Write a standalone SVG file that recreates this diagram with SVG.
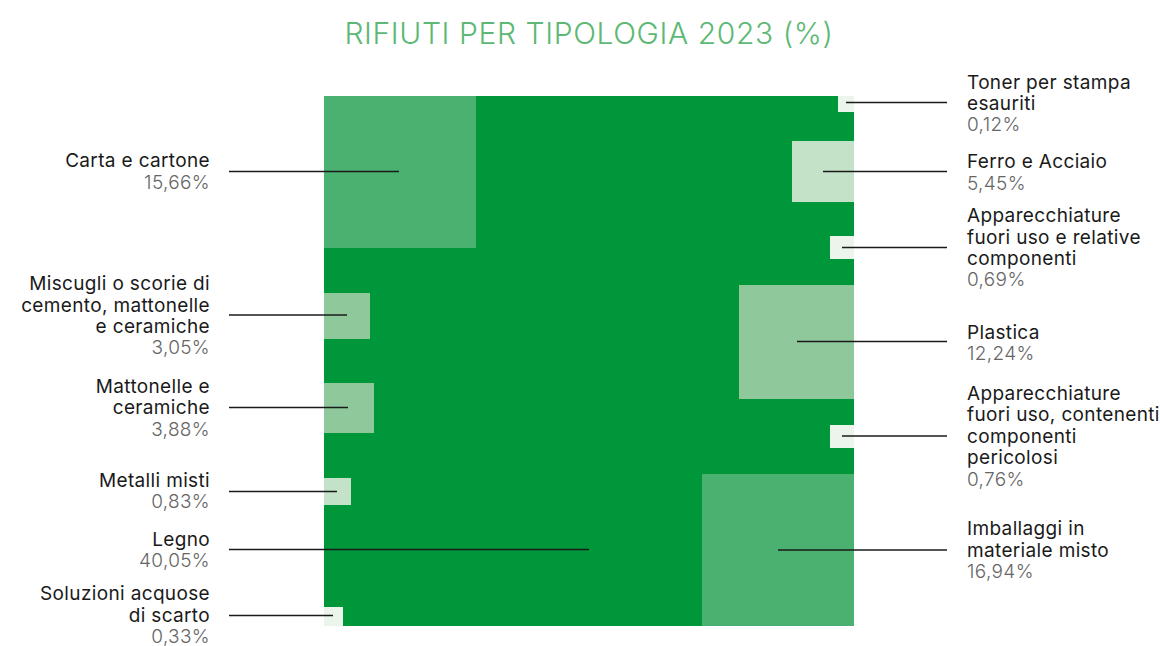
<svg xmlns="http://www.w3.org/2000/svg" width="1160" height="646" viewBox="0 0 1160 646">
<style>
.lbl{font-family:Inter,"Liberation Sans",sans-serif;font-size:19px;fill:#1a1a1a;letter-spacing:0.35px}
.pct{font-family:Inter,"Liberation Sans",sans-serif;font-size:19px;font-weight:300;fill:#666;letter-spacing:0.35px}
.l{text-anchor:end}
.ld{stroke:#1a1a1a;stroke-width:1.5;fill:none}
.c1{fill:#4ab170}.c2{fill:#8fc89a}.c3{fill:#c3e2c7}.c4{fill:#ebf5ec}
</style>
<rect width="1160" height="646" fill="#fff"/>
<text x="589" y="44" text-anchor="middle" font-family="Inter,'Liberation Sans',sans-serif" font-size="30" font-weight="300" letter-spacing="0.6" fill="#5cb874">RIFIUTI PER TIPOLOGIA 2023 (%)</text>
<g id="legno"><rect x="324" y="96" width="530" height="530" fill="#00963a"/></g>
<g id="carta"><rect class="c1" x="324" y="96" width="152" height="152"/></g>
<g id="miscugli"><rect class="c2" x="324" y="293" width="46" height="46"/></g>
<g id="mattonelle"><rect class="c2" x="324" y="383" width="50" height="50"/></g>
<g id="metalli"><rect class="c3" x="324" y="478" width="27" height="27"/></g>
<g id="soluzioni"><rect class="c4" x="324" y="607" width="19" height="19"/></g>
<g id="toner"><rect class="c4" x="838" y="96" width="16" height="16"/></g>
<g id="ferro"><rect class="c3" x="792" y="141" width="62" height="61"/></g>
<g id="app1"><rect class="c4" x="830" y="236" width="24" height="23"/></g>
<g id="plastica"><rect class="c2" x="739" y="285" width="115" height="114"/></g>
<g id="app2"><rect class="c4" x="830" y="425" width="24" height="23"/></g>
<g id="imballaggi"><rect class="c1" x="702" y="474" width="152" height="152"/></g>
<g id="connectors">
<line class="ld" x1="229" y1="171.5" x2="399" y2="171.5"/>
<line class="ld" x1="229" y1="315" x2="347" y2="315"/>
<line class="ld" x1="229" y1="407.5" x2="348" y2="407.5"/>
<line class="ld" x1="229" y1="491.5" x2="337" y2="491.5"/>
<line class="ld" x1="229" y1="549.5" x2="589" y2="549.5"/>
<line class="ld" x1="229" y1="615.5" x2="333" y2="615.5"/>
<line class="ld" x1="846" y1="102.5" x2="947" y2="102.5"/>
<line class="ld" x1="823" y1="171.5" x2="947" y2="171.5"/>
<line class="ld" x1="842" y1="247.5" x2="947" y2="247.5"/>
<line class="ld" x1="797" y1="341.5" x2="947" y2="341.5"/>
<line class="ld" x1="842" y1="436" x2="947" y2="436"/>
<line class="ld" x1="778" y1="550" x2="947" y2="550"/>
</g>
<g id="labels-left">
<text class="lbl l" x="210" y="167">Carta e cartone</text>
<text class="pct l" x="210" y="189">15,66%</text>
<text class="lbl l" x="210" y="290">Miscugli o scorie di</text>
<text class="lbl l" x="210" y="311.5">cemento, mattonelle</text>
<text class="lbl l" x="210" y="333">e ceramiche</text>
<text class="pct l" x="210" y="354">3,05%</text>
<text class="lbl l" x="210" y="393">Mattonelle e</text>
<text class="lbl l" x="210" y="414">ceramiche</text>
<text class="pct l" x="210" y="436">3,88%</text>
<text class="lbl l" x="210" y="487">Metalli misti</text>
<text class="pct l" x="210" y="508">0,83%</text>
<text class="lbl l" x="210" y="546">Legno</text>
<text class="pct l" x="210" y="567">40,05%</text>
<text class="lbl l" x="210" y="600">Soluzioni acquose</text>
<text class="lbl l" x="210" y="621.5">di scarto</text>
<text class="pct l" x="210" y="643">0,33%</text>
</g>
<g id="labels-right">
<text class="lbl" x="967" y="89">Toner per stampa</text>
<text class="lbl" x="967" y="110">esauriti</text>
<text class="pct" x="967" y="131">0,12%</text>
<text class="lbl" x="967" y="168">Ferro e Acciaio</text>
<text class="pct" x="967" y="189.5">5,45%</text>
<text class="lbl" x="967" y="222">Apparecchiature</text>
<text class="lbl" x="967" y="243.5">fuori uso e relative</text>
<text class="lbl" x="967" y="265">componenti</text>
<text class="pct" x="967" y="286">0,69%</text>
<text class="lbl" x="967" y="338.5">Plastica</text>
<text class="pct" x="967" y="359.5">12,24%</text>
<text class="lbl" x="967" y="399.5">Apparecchiature</text>
<text class="lbl" x="967" y="421">fuori uso, contenenti</text>
<text class="lbl" x="967" y="442.5">componenti</text>
<text class="lbl" x="967" y="463.5">pericolosi</text>
<text class="pct" x="967" y="485.5">0,76%</text>
<text class="lbl" x="967" y="535">Imballaggi in</text>
<text class="lbl" x="967" y="556.5">materiale misto</text>
<text class="pct" x="967" y="577.5">16,94%</text>
</g>
</svg>
